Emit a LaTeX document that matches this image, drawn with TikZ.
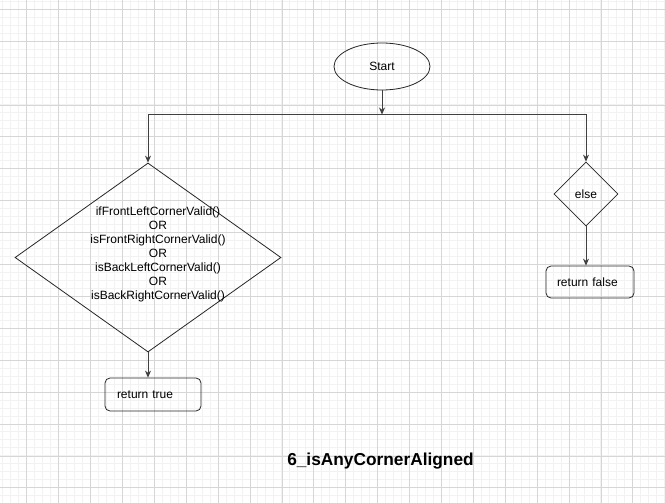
\documentclass[tikz,border=0pt]{standalone}
\usepackage{fontspec}
\setmainfont{Liberation Sans}
\usetikzlibrary{positioning, shapes, arrows.meta, calc}
\definecolor{gridminor}{rgb}{0.95, 0.95, 0.95}
\definecolor{gridmajor}{rgb}{0.84, 0.84, 0.84}

\begin{document}
\begin{tikzpicture}[x=1pt, y=-1pt, every node/.style={font=\fontsize{12}{14}\selectfont},
	flowline/.style={draw=black!75, line width=0.8pt, -{Stealth[length=7pt,width=6pt]}},
	startbox/.style={ellipse, draw=black!85, line width=0.8pt, minimum width=96pt, minimum height=47pt, inner sep=0pt},
	testbox/.style={diamond, draw=black!85, line width=0.8pt, inner sep=0pt},
	resultbox/.style={rectangle, rounded corners=5pt, draw=black!85, line width=0.8pt, align=left, inner ysep=0pt}]
							\useasboundingbox (0,0) rectangle (665,503);
							\fill[white] (0,0) rectangle (665,503);
							% grid
							\pgfmathsetmacro{\minorstep}{7.975}
							\pgfmathsetmacro{\majorstep}{31.9}
							\foreach \i in {1,...,84} {
								\draw[gridminor, line width=1pt] ({-5.2+\minorstep*\i},0) -- ++(0,503);
							}
							\foreach \j in {3,...,65} {
								\draw[gridminor, line width=1pt] (0,{-22.6+\minorstep*\j}) -- ++(665,0);
							}
							\foreach \i in {0,...,19} {
								\draw[gridmajor, line width=0.8pt] ({26.7+\majorstep*\i},0) -- ++(0,503);
							}
							\foreach \j in {0,...,15} {
								\draw[gridmajor, line width=0.8pt] (0,{9.3+\majorstep*\j}) -- ++(665,0);
							}
							
							% shapes
							\node[startbox] (start) at (382,66.5) {Start};
							\coordinate (split) at (382,114.5);
							\node[testbox, minimum width=266pt, minimum height=189pt,
								label={[align=center, xshift=10pt, yshift=3.5pt]center:ifFrontLeftCornerValid()\\OR\\isFrontRightCornerValid()\\OR\\isBackLeftCornerValid()\\OR\\isBackRightCornerValid()}] (cond) at (148,257.5) {};
							\node[testbox, minimum width=64pt, minimum height=64pt] (elsetest) at (586,194) {else};
							\node[resultbox, minimum height=33pt, text width=72pt, inner xsep=12pt] (rtrue) at (153,394.5) {return true};
							\node[resultbox, minimum height=32pt, text width=66pt, inner xsep=11pt] (rfalse) at (590,282) {return false};
							\node[font=\fontsize{17.3}{20}\selectfont\bfseries] (title) at (380.5,461) {6\_isAnyCornerAligned};
							
							% connectors
							\draw[flowline] (start) -- (split);
							\draw[flowline] (split) -| (cond.north);
							\draw[flowline] (split) -| (elsetest.north);
							\draw[flowline] (cond.south) -- (cond.south |- rtrue.north);
							\draw[flowline] (elsetest.south) -- (elsetest.south |- rfalse.north);
\end{tikzpicture}
\end{document}
